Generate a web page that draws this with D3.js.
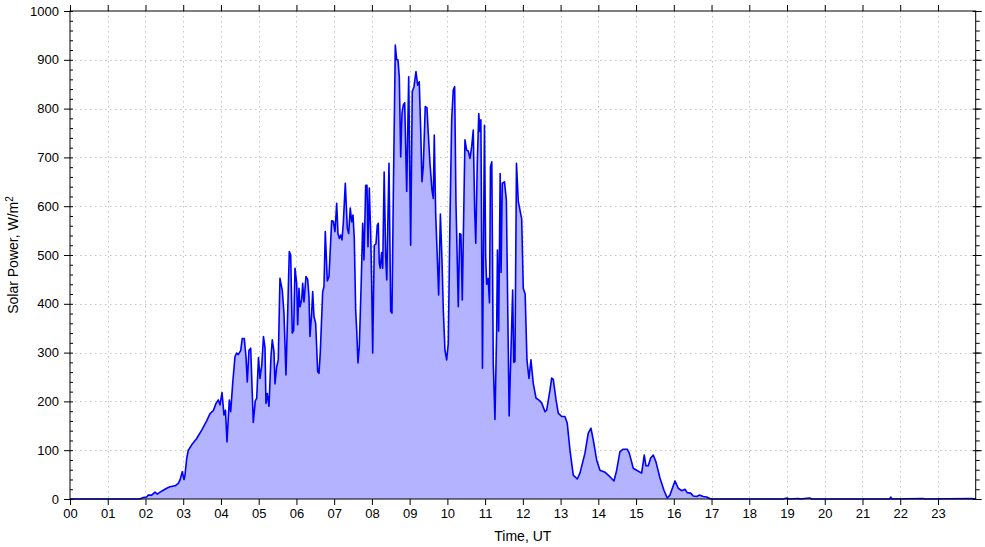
<!DOCTYPE html>
<html>
<head>
<meta charset="utf-8">
<script src="https://cdn.jsdelivr.net/npm/d3@7"></script>
<style>
html,body{margin:0;padding:0;background:#fff;}
svg{display:block;font-family:"Liberation Sans",Arial,sans-serif;}
</style>
</head>
<body>
<svg id="chart" width="985" height="547"></svg>
<script>
// ---- data ----
const hourLabels = ["00","01","02","03","04","05","06","07","08","09","10","11","12","13","14","15","16","17","18","19","20","21","22","23"];
const yTickValues = [0,100,200,300,400,500,600,700,800,900,1000];

const timeUT = [
0,1.855,1.942,2.032,2.075,2.165,2.252,2.313,2.385,2.472,2.562,2.650,2.782,2.870,2.915,2.976,3.021,3.047,3.092,3.135,
3.225,3.357,3.490,3.622,3.710,3.797,3.869,3.930,3.975,4.028,4.081,4.120,4.160,4.221,4.258,4.311,4.372,4.417,4.459,4.523,
4.565,4.618,4.663,4.698,4.743,4.788,4.857,4.910,4.947,4.995,5.034,5.082,5.127,5.167,5.193,5.228,5.273,5.326,5.360,5.405,
5.432,5.477,5.519,5.564,5.625,5.670,5.723,5.768,5.811,5.848,5.890,5.927,5.962,6.007,6.033,6.068,6.094,6.139,6.166,6.200,
6.253,6.298,6.333,6.359,6.404,6.431,6.465,6.510,6.563,6.598,6.632,6.696,6.730,6.765,6.818,6.863,6.934,6.977,7.022,7.067,
7.101,7.136,7.173,7.207,7.242,7.295,7.348,7.385,7.427,7.464,7.499,7.533,7.570,7.597,7.631,7.666,7.719,7.756,7.790,7.835,
7.870,7.896,7.931,7.968,7.994,8.021,8.063,8.108,8.143,8.169,8.196,8.222,8.259,8.286,8.325,8.365,8.394,8.453,8.498,8.532,
8.567,8.620,8.657,8.691,8.726,8.763,8.797,8.832,8.869,8.922,8.975,9.027,9.070,9.115,9.168,9.213,9.255,9.293,9.327,9.361,
9.414,9.459,9.494,9.539,9.592,9.626,9.653,9.690,9.732,9.769,9.815,9.857,9.891,9.936,9.981,10.024,10.069,10.114,10.156,10.193,
10.228,10.289,10.326,10.360,10.395,10.466,10.511,10.554,10.599,10.644,10.686,10.723,10.753,10.792,10.832,10.861,10.888,10.930,10.983,11.015,
11.041,11.081,11.116,11.142,11.177,11.216,11.261,11.306,11.327,11.359,11.399,11.423,11.455,11.513,11.563,11.637,11.730,11.759,11.791,11.831,
11.879,11.969,12.011,12.061,12.109,12.162,12.215,12.276,12.348,12.435,12.499,12.586,12.631,12.719,12.764,12.806,12.878,12.939,13.029,13.116,
13.177,13.249,13.336,13.442,13.513,13.646,13.733,13.805,13.866,13.956,14.043,14.176,14.290,14.414,14.486,14.573,14.661,14.767,14.820,14.926,
15.016,15.148,15.217,15.262,15.323,15.387,15.456,15.527,15.633,15.739,15.827,15.898,16.031,16.118,16.208,16.296,16.356,16.447,16.516,16.606,
16.675,16.781,16.871,16.977,17.5,18.9,19.0,19.05,19.3,19.35,19.6,19.65,21.72,21.75,21.78,22.6,22.65,23.9,24
];
const solarPower = [
0,0,3,4,8,8,14,10,14,18,22,25,27,32,39,56,40,49,83,100,
111,124,141,160,175,181,196,203,193,218,172,182,117,203,179,237,292,299,296,304,
329,329,292,240,305,309,157,201,206,290,247,275,333,310,196,216,190,292,326,302,
236,271,285,452,428,381,254,381,507,500,340,346,473,442,357,432,394,408,442,404,
456,450,415,333,381,425,374,360,261,258,300,425,435,548,447,456,570,569,548,606,
544,534,541,531,565,647,555,544,596,568,582,534,387,346,279,312,449,565,490,643,
643,517,637,544,442,299,520,523,561,565,483,473,505,473,670,497,449,688,385,381,
620,930,900,900,865,701,790,807,812,630,865,520,835,845,876,848,855,756,650,681,
804,802,749,688,633,616,746,585,497,418,584,490,390,305,285,319,572,777,838,845,
606,394,544,542,408,736,715,713,698,722,756,592,524,688,790,753,777,268,766,497,
440,452,402,681,691,278,163,346,510,344,667,464,647,650,613,170,428,280,282,688,
610,574,432,420,285,247,285,237,207,202,197,179,182,223,248,245,204,176,169,169,
155,100,49,41,53,94,135,145,121,80,59,55,47,37,59,97,102,102,94,63,
59,53,90,68,68,84,90,76,43,18,2,8,37,22,17,20,13,12,6,5,
8,5,4,0,0,0,2,0,1,0,2,0,0,4,0,1,0,1,0
];

(function(){
// ---- layout ----
const svg = d3.select("#chart");
const mLeft = 70, mRight = 975.7, mTop = 11, mBottom = 499;
const x = d3.scaleLinear().domain([0,24]).range([mLeft,mRight]);
const y = d3.scaleLinear().domain([0,1000]).range([mBottom,mTop]);
const data = timeUT.map((t,i)=>({t, v: solarPower[i]}));
const minorY = d3.range(0,1001,20);

// grid
const grid = svg.append("g").attr("stroke","#c4c4c4").attr("stroke-width",1).attr("stroke-dasharray","1.5,3.5");
grid.selectAll("line.v").data(d3.range(1,24)).join("line")
  .attr("x1",d=>Math.round(x(d))+0.5).attr("x2",d=>Math.round(x(d))+0.5).attr("y1",mTop).attr("y2",mBottom);
grid.selectAll("line.h").data(yTickValues.slice(1,-1)).join("line")
  .attr("y1",d=>Math.round(y(d))+0.5).attr("y2",d=>Math.round(y(d))+0.5).attr("x1",mLeft).attr("x2",mRight);

// area & line
svg.append("path").datum(data)
  .attr("fill","#b3b3ff")
  .attr("d", d3.area().x(d=>x(d.t)).y0(y(0)).y1(d=>y(d.v)));
svg.append("path").datum(data)
  .attr("fill","none").attr("stroke","#0000ff").attr("stroke-width",1.6).attr("stroke-linejoin","round")
  .attr("d", d3.line().x(d=>x(d.t)).y(d=>y(d.v)));

// axes
function styleAxis(g){ g.select(".domain").remove(); g.selectAll("line").attr("stroke","#000"); g.selectAll("text").attr("fill","#000").style("font-size","13px").style("font-family","'Liberation Sans',Arial,sans-serif"); }

svg.append("g").attr("transform",`translate(0,${mBottom})`)
  .call(d3.axisBottom(x).tickValues(d3.range(0,24)).tickFormat((d,i)=>hourLabels[i]).tickSize(6).tickPadding(4))
  .call(styleAxis);
svg.append("g").attr("transform",`translate(0,${mTop})`)
  .call(d3.axisTop(x).tickValues(d3.range(0,24)).tickFormat("").tickSize(6))
  .call(styleAxis);
svg.append("g").attr("transform",`translate(${mLeft},0)`)
  .call(d3.axisLeft(y).tickValues(yTickValues).tickFormat(d3.format("d")).tickSize(6).tickPadding(5))
  .call(styleAxis);
svg.append("g").attr("transform",`translate(${mLeft},0)`)
  .call(d3.axisRight(y).tickValues(minorY).tickFormat("").tickSize(3))
  .call(styleAxis);
svg.append("g").attr("transform",`translate(${mRight},0)`)
  .call(d3.axisRight(y).tickValues(minorY).tickFormat("").tickSize(4))
  .call(styleAxis);
svg.append("g").attr("transform",`translate(${mRight},0)`)
  .call(d3.axisRight(y).tickValues(yTickValues).tickFormat("").tickSize(6))
  .call(styleAxis);
svg.append("g").attr("transform",`translate(${mRight},0)`)
  .call(d3.axisLeft(y).tickValues(yTickValues).tickFormat("").tickSize(3))
  .call(styleAxis);

// frame
svg.append("rect").attr("x",mLeft).attr("y",mTop).attr("width",mRight-mLeft).attr("height",mBottom-mTop)
  .attr("fill","none").attr("stroke","#000").attr("stroke-width",1);

// titles
svg.append("text").attr("x",(mLeft+mRight)/2).attr("y",541).attr("text-anchor","middle")
  .style("font-size","14px").text("Time, UT");
const yt = svg.append("text").attr("transform",`translate(18,${(mTop+mBottom)/2}) rotate(-90)`)
  .attr("text-anchor","middle").style("font-size","14px");
yt.append("tspan").text("Solar Power, W/m");
yt.append("tspan").attr("dy","-5").style("font-size","10px").text("2");
})();
</script>
</body>
</html>
